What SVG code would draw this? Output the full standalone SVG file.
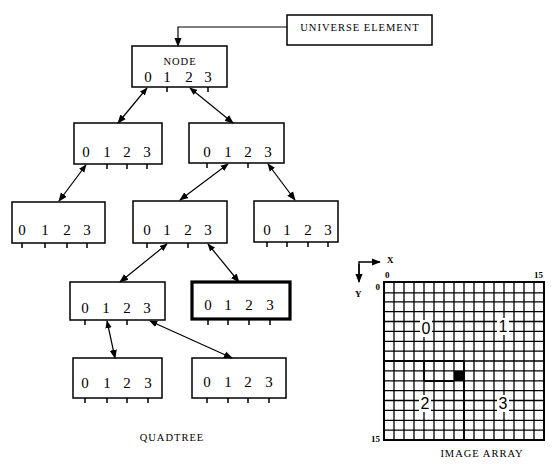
<svg xmlns="http://www.w3.org/2000/svg" width="557" height="464" viewBox="0 0 557 464">
<defs>
<marker id="ah" viewBox="0 0 10 10" refX="9" refY="5" markerWidth="8" markerHeight="8" markerUnits="userSpaceOnUse" orient="auto-start-reverse">
<path d="M0,1 L10,5 L0,9 Z" fill="#000"/>
</marker>
<marker id="ah2" viewBox="0 0 10 10" refX="9" refY="5" markerWidth="9" markerHeight="9" markerUnits="userSpaceOnUse" orient="auto">
<path d="M0,1 L10,5 L0,9 Z" fill="#000"/>
</marker>
</defs>
<style>
.box{fill:#fff;stroke:#000;stroke-width:1.5}
.bold{fill:#fff;stroke:#000;stroke-width:3.2}
.d{font-family:"Liberation Serif",serif;font-size:15px;text-anchor:middle;fill:#000}
.lbl{font-family:"Liberation Serif",serif;font-size:10.5px;text-anchor:middle;fill:#000;letter-spacing:1px}
.tk{stroke:#000;stroke-width:1.5}
.cn{stroke:#000;stroke-width:1.2;fill:none;marker-start:url(#ah);marker-end:url(#ah2)}
.g{stroke:#000;stroke-width:1.3;fill:none}
.q{font-family:"Liberation Sans",sans-serif;font-size:16px;text-anchor:middle;fill:#000}
.s{font-family:"Liberation Serif",serif;font-size:9px;font-weight:bold;fill:#000}
</style>
<rect width="557" height="464" fill="#fff"/>

<g id="universe">
<rect class="box" x="287" y="15" width="145" height="30"/>
<text class="lbl" x="360" y="31">UNIVERSE ELEMENT</text>
</g>

<g id="root">
<rect class="box" x="132" y="46" width="95" height="41"/>
<text class="lbl" x="180" y="65">NODE</text>
<text class="d" x="148" y="82">0</text><text class="d" x="167" y="82">1</text><text class="d" x="189" y="82">2</text><text class="d" x="208" y="82">3</text>
<path class="tk" d="M167,87v5M208,87v5"/>
</g>

<g id="n2a">
<rect class="box" x="74" y="123" width="88" height="41"/>
<text class="d" x="86" y="157">0</text><text class="d" x="107" y="157">1</text><text class="d" x="127" y="157">2</text><text class="d" x="147" y="157">3</text>
<path class="tk" d="M107,164v5M127,164v5M147,164v5"/>
</g>

<g id="n2b">
<rect class="box" x="189" y="123" width="95" height="40"/>
<text class="d" x="207" y="157">0</text><text class="d" x="228" y="157">1</text><text class="d" x="248" y="157">2</text><text class="d" x="268" y="157">3</text>
<path class="tk" d="M207,163v5M248,163v5"/>
</g>

<g id="n3a">
<rect class="box" x="12" y="202" width="93" height="41"/>
<text class="d" x="22" y="235">0</text><text class="d" x="45" y="235">1</text><text class="d" x="67" y="235">2</text><text class="d" x="87" y="235">3</text>
<path class="tk" d="M22,243v5M45,243v5M67,243v5M87,243v5"/>
</g>

<g id="n3b">
<rect class="box" x="133" y="201" width="94" height="42"/>
<text class="d" x="147" y="235">0</text><text class="d" x="167" y="235">1</text><text class="d" x="188" y="235">2</text><text class="d" x="208" y="235">3</text>
<path class="tk" d="M147,243v5M188,243v5"/>
</g>

<g id="n3c">
<rect class="box" x="254" y="201" width="84" height="41"/>
<text class="d" x="267" y="235">0</text><text class="d" x="287" y="235">1</text><text class="d" x="308" y="235">2</text><text class="d" x="328" y="235">3</text>
<path class="tk" d="M267,242v5M287,242v5M308,242v5M328,242v5"/>
</g>

<g id="n4a">
<rect class="box" x="70" y="282" width="95" height="38"/>
<text class="d" x="85" y="313">0</text><text class="d" x="106" y="313">1</text><text class="d" x="127" y="313">2</text><text class="d" x="147" y="313">3</text>
<path class="tk" d="M85,320v5M127,320v5"/>
</g>

<g id="n4b">
<rect class="bold" x="192" y="282" width="98" height="37"/>
<text class="d" x="208" y="310">0</text><text class="d" x="228" y="310">1</text><text class="d" x="249" y="310">2</text><text class="d" x="270" y="310">3</text>
<path class="tk" d="M208,320v5M228,320v5M249,320v5M270,320v5"/>
</g>

<g id="n5a">
<rect class="box" x="73" y="358" width="89" height="40"/>
<text class="d" x="85" y="388">0</text><text class="d" x="107" y="388">1</text><text class="d" x="127" y="388">2</text><text class="d" x="148" y="388">3</text>
<path class="tk" d="M85,398v5M107,398v5M127,398v5M148,398v5"/>
</g>

<g id="n5b">
<rect class="box" x="192" y="358" width="94" height="40"/>
<text class="d" x="207" y="387">0</text><text class="d" x="228" y="387">1</text><text class="d" x="248" y="387">2</text><text class="d" x="269" y="387">3</text>
<path class="tk" d="M207,398v5M228,398v5M248,398v5M269,398v5"/>
</g>

<g id="connectors">
<path d="M287,27 H178 V46" stroke="#000" stroke-width="1.2" fill="none" marker-end="url(#ah2)"/>
<path class="cn" d="M147,88 L118,123"/>
<path class="cn" d="M190,88 L233,123"/>
<path class="cn" d="M86,165 L59,201"/>
<path class="cn" d="M228,164 L180,200"/>
<path class="cn" d="M268,164 L295,200"/>
<path class="cn" d="M167,244 L120,282"/>
<path class="cn" d="M208,244 L239,282"/>
<path class="cn" d="M107,321 L115,358"/>
<path class="cn" d="M150,321 L232,358"/>
</g>

<text class="lbl" x="172" y="441">QUADTREE</text>

<g id="image-array">
<path class="g" d="M384,292.9H544M384,301.8H544M384,311.6H544M384,321.5H544M384,331.4H544M384,341.3H544M384,351.1H544M384,361H544M384,370.9H544M384,380.8H544M384,390.6H544M384,400.5H544M384,410.4H544M384,420.3H544M384,430.1H544"/>
<path class="g" d="M394,282V440M404,282V440M414,282V440M424,282V440M434,282V440M444,282V440M454,282V440M464,282V440M474,282V440M484,282V440M494,282V440M504,282V440M514,282V440M524,282V440M534,282V440"/>
<path d="M384,361H464M464,361V440M424,361V381M424,381H454" stroke="#000" stroke-width="1.8" fill="none"/>
<rect x="384" y="282" width="160" height="158" fill="none" stroke="#000" stroke-width="2"/>
<rect x="454" y="371" width="10" height="10" fill="#000"/>
<rect x="420" y="320" width="12" height="17" fill="#fff"/>
<rect x="497" y="318" width="12" height="17" fill="#fff"/>
<rect x="419" y="395" width="12" height="17" fill="#fff"/>
<rect x="497" y="395" width="12" height="17" fill="#fff"/>
<text class="q" x="426" y="334">0</text>
<text class="q" x="503" y="332">1</text>
<text class="q" x="425" y="409">2</text>
<text class="q" x="503" y="409">3</text>
<text class="s" x="385" y="278">0</text>
<text class="s" x="543" y="278" text-anchor="end">15</text>
<text class="s" x="380" y="290" text-anchor="end">0</text>
<text class="s" x="380" y="442" text-anchor="end">15</text>
<path d="M359,274V262H380" stroke="#000" stroke-width="1.4" fill="none" marker-end="url(#ah2)"/>
<path d="M359,264V282" stroke="#000" stroke-width="1.4" fill="none" marker-end="url(#ah2)"/>
<text class="s" x="387" y="263">X</text>
<text class="s" x="355" y="297">Y</text>
<text class="lbl" x="482" y="457">IMAGE ARRAY</text>
</g>
</svg>
